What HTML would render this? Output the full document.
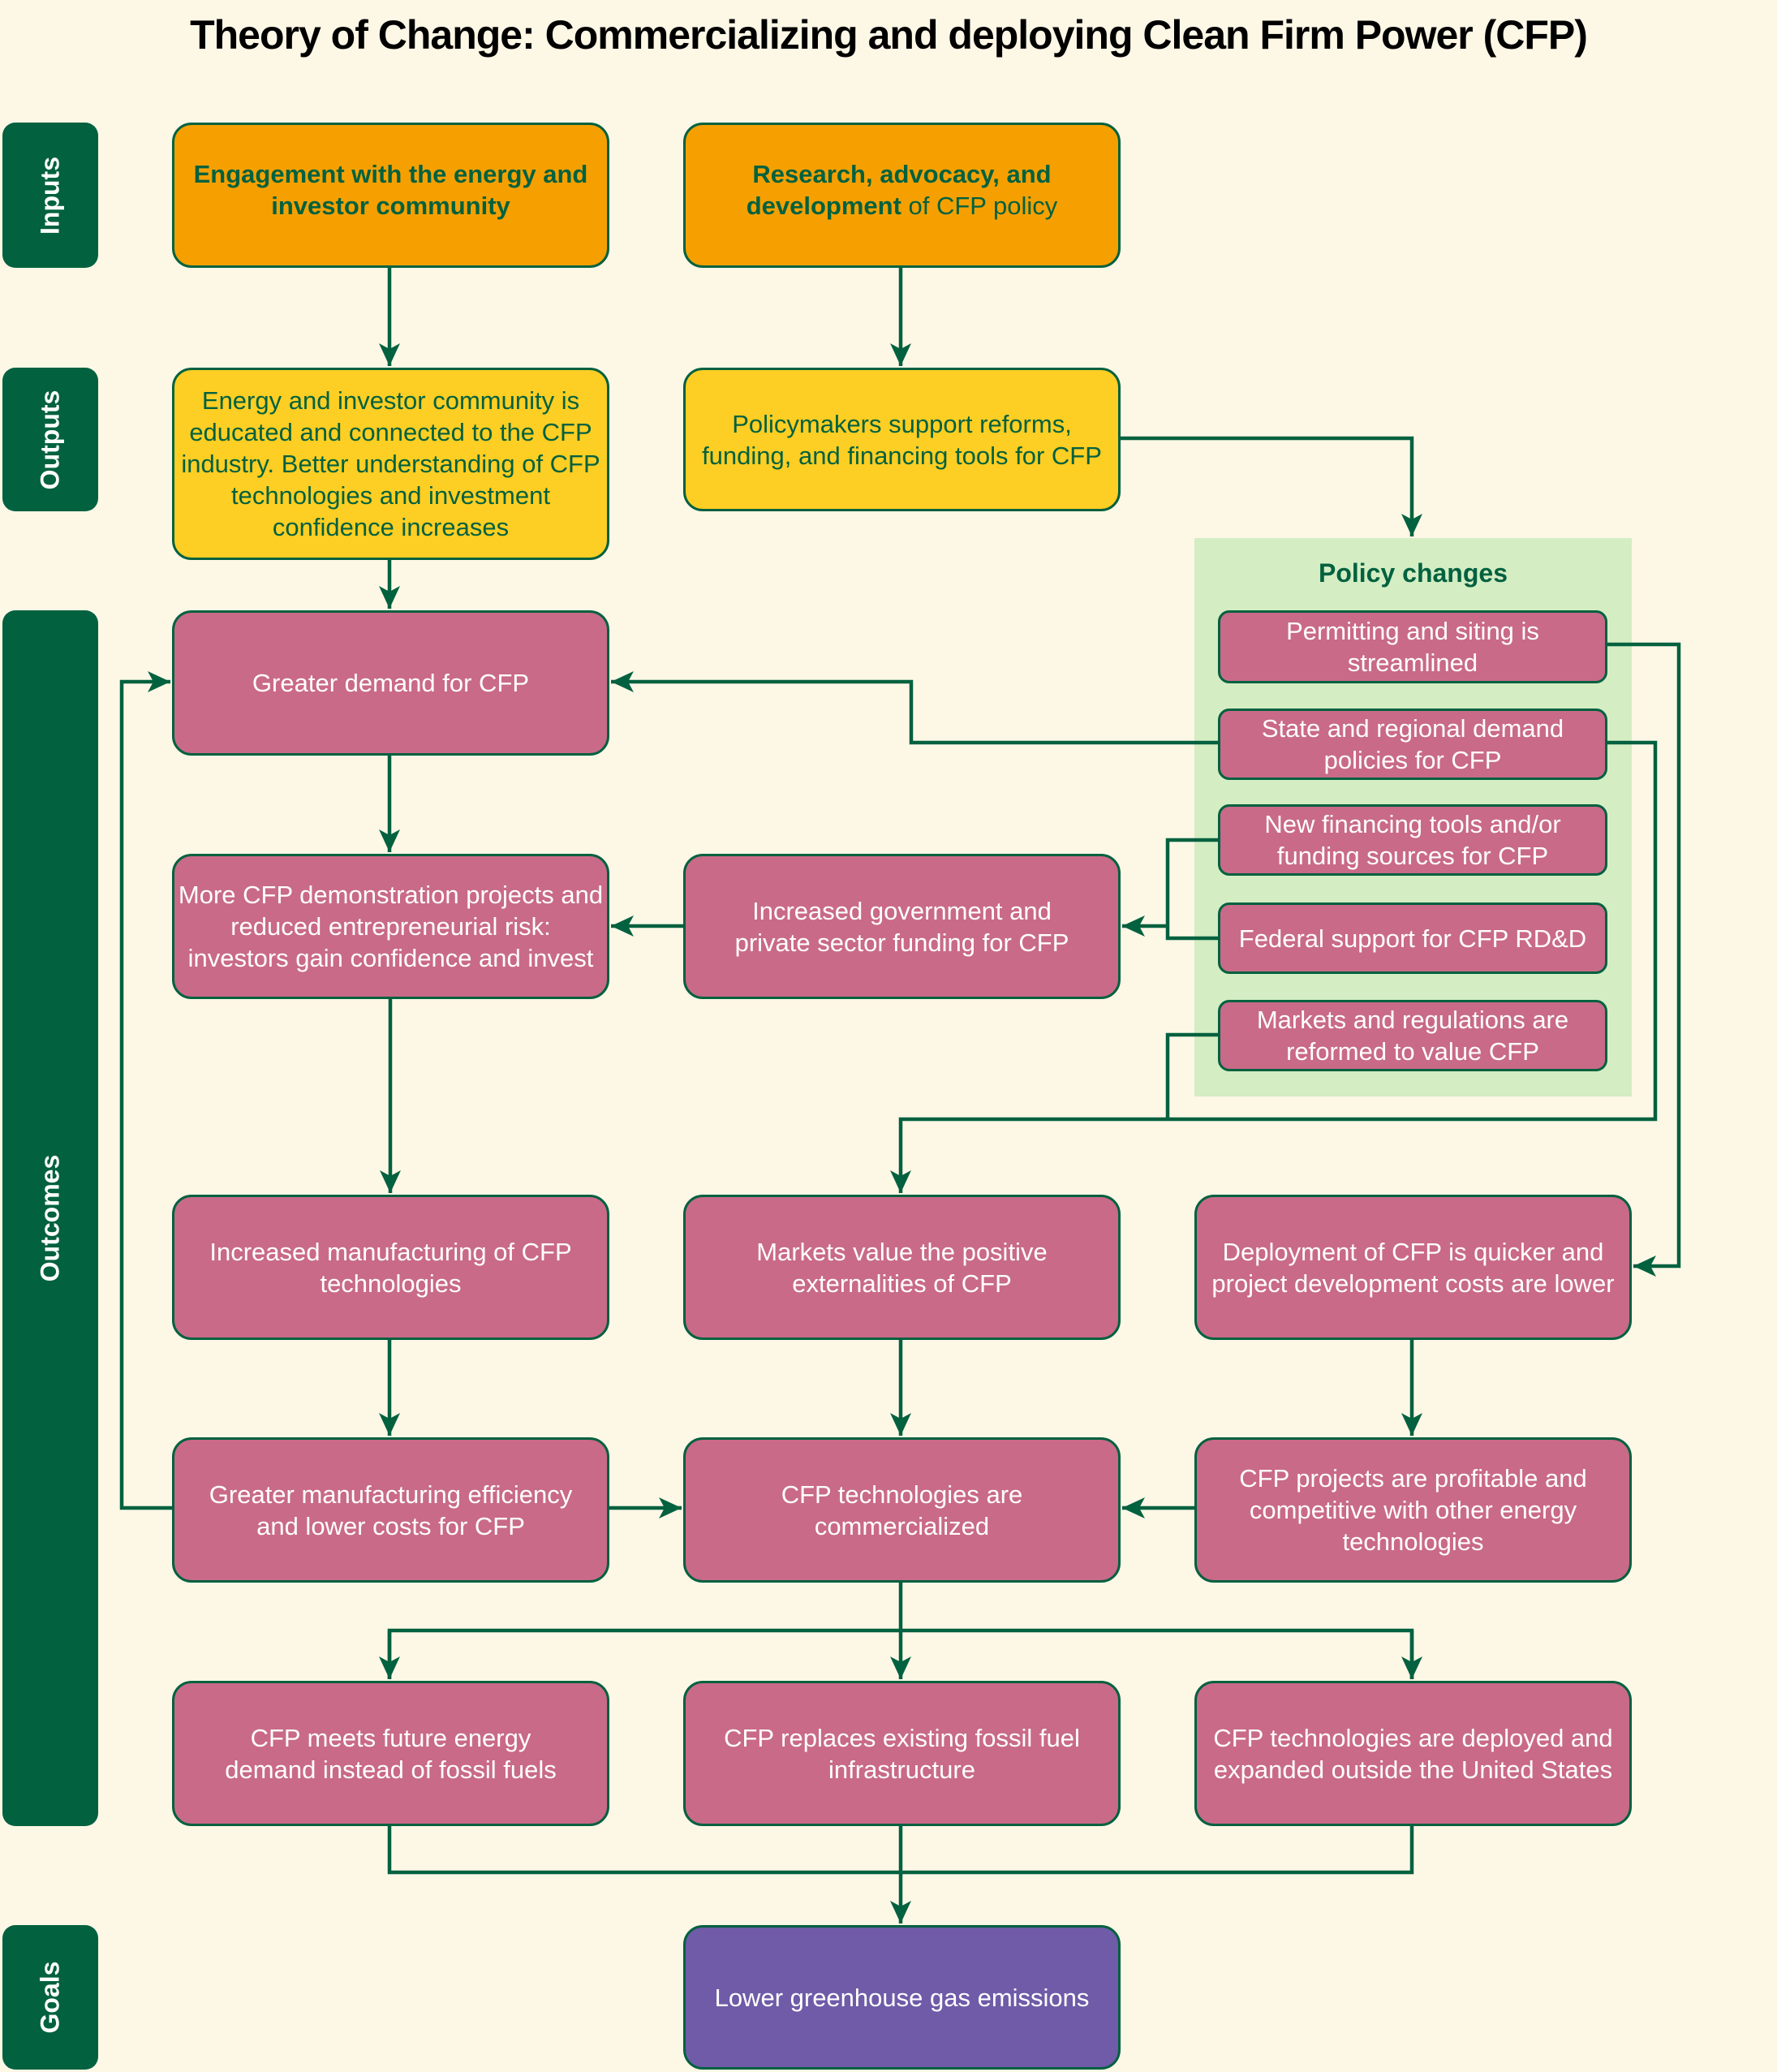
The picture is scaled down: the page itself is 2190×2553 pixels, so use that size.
<!DOCTYPE html>
<html><head><meta charset="utf-8"><style>
*{box-sizing:border-box;margin:0;padding:0}
body{width:2190px;height:2553px;background:#fdf7e6;position:relative;overflow:hidden;font-family:"Liberation Sans",Arial,sans-serif}
.t{position:absolute;left:0;width:2190px;top:14px;text-align:center;font-size:50px;font-weight:bold;color:#000;letter-spacing:-1px}
.side{position:absolute;left:3px;width:118px;background:#02613f;border-radius:16px}
.side span{position:absolute;left:50%;top:50%;transform:translate(-50%,-50%) rotate(-90deg);color:#fff;font-weight:bold;font-size:32px;white-space:nowrap}
.b{position:absolute;border:3.5px solid #02613f;border-radius:24px;display:flex;align-items:center;justify-content:center;text-align:center;font-size:31px;line-height:39px;padding:0 4px}
.o{background:#f5a000;color:#02613f}
.y{background:#fdce23;color:#02613f}
.p{background:#c96a88;color:#fff}
.g{background:#6f5ba8;color:#fff}
.pi{position:absolute;left:1501px;width:480px;border:3.5px solid #02613f;border-radius:14px;background:#c96a88;color:#fff;display:flex;align-items:center;justify-content:center;text-align:center;font-size:31px;line-height:39px}
.c1{left:212px;width:539px}.c2{left:842px;width:539px}.c3{left:1472px;width:539px}
</style></head><body>
<div class="t">Theory of Change: Commercializing and deploying Clean Firm Power (CFP)</div>
<div class="side" style="top:151px;height:179px"><span>Inputs</span></div>
<div class="side" style="top:453px;height:177px"><span>Outputs</span></div>
<div class="side" style="top:752px;height:1498px"><span>Outcomes</span></div>
<div class="side" style="top:2372px;height:178px"><span>Goals</span></div>

<div style="position:absolute;left:1472px;top:663px;width:539px;height:688px;background:#d4edc3"></div>
<div style="position:absolute;left:1472px;top:688px;width:539px;text-align:center;font-weight:bold;font-size:32px;color:#02613f">Policy changes</div>

<svg width="2190" height="2553" style="position:absolute;left:0;top:0">
<defs><marker id="a" markerUnits="userSpaceOnUse" markerWidth="30" markerHeight="30" refX="28" refY="13" orient="auto"><path d="M0,0 L28,13 L0,26 L7,13 Z" fill="#02613f"/></marker></defs>
<g stroke="#02613f" stroke-width="4.5" fill="none">
<path d="M480,330 V451" marker-end="url(#a)"/>
<path d="M1110,330 V451" marker-end="url(#a)"/>
<path d="M1381,540 H1740 V661" marker-end="url(#a)"/>
<path d="M480,690 V750" marker-end="url(#a)"/>
<path d="M1501,915 H1123 V840 H753" marker-end="url(#a)"/>
<path d="M1981,794 H2069 V1560 H2013" marker-end="url(#a)"/>
<path d="M1981,915 H2040 V1379 H1110 V1470" marker-end="url(#a)"/>
<path d="M1501,1275 H1439 V1379"/>
<path d="M1501,1035 H1439 V1156 H1501"/>
<path d="M1439,1141 H1383" marker-end="url(#a)"/>
<path d="M480,931 V1050" marker-end="url(#a)"/>
<path d="M842,1141 H753" marker-end="url(#a)"/>
<path d="M481,1231 V1470" marker-end="url(#a)"/>
<path d="M480,1651 V1769" marker-end="url(#a)"/>
<path d="M1110,1651 V1769" marker-end="url(#a)"/>
<path d="M1740,1651 V1769" marker-end="url(#a)"/>
<path d="M212,1858 H150 V840 H210" marker-end="url(#a)"/>
<path d="M751,1858 H840" marker-end="url(#a)"/>
<path d="M1472,1858 H1383" marker-end="url(#a)"/>
<path d="M1110,1950 V2069" marker-end="url(#a)"/>
<path d="M480,2069 V2009 H1740 V2069"/>
<path d="M480,2009 V2069" marker-end="url(#a)"/>
<path d="M1740,2009 V2069" marker-end="url(#a)"/>
<path d="M480,2250 V2307 H1740 V2250"/>
<path d="M1110,2250 V2370" marker-end="url(#a)"/>
</g></svg>

<div class="b o c1" style="top:151px;height:179px;font-weight:bold;padding-bottom:14px">Engagement with the energy and<br>investor community</div>
<div class="b o c2" style="top:151px;height:179px;padding-bottom:14px"><span><b>Research, advocacy, and<br>development</b> of CFP policy</span></div>
<div class="b y c1" style="top:453px;height:237px">Energy and investor community is educated and connected to the CFP industry. Better understanding of CFP technologies and investment confidence increases</div>
<div class="b y c2" style="top:453px;height:177px;padding:0 20px">Policymakers support reforms, funding, and financing tools for CFP</div>

<div class="pi" style="top:752px;height:90px">Permitting and siting is<br>streamlined</div>
<div class="pi" style="top:873px;height:88px">State and regional demand<br>policies for CFP</div>
<div class="pi" style="top:991px;height:88px">New financing tools and/or<br>funding sources for CFP</div>
<div class="pi" style="top:1112px;height:88px">Federal support for CFP RD&amp;D</div>
<div class="pi" style="top:1232px;height:88px">Markets and regulations are<br>reformed to value CFP</div>

<div class="b p c1" style="top:752px;height:179px">Greater demand for CFP</div>
<div class="b p c1" style="top:1052px;height:179px">More CFP demonstration projects and reduced entrepreneurial risk: investors gain confidence and invest</div>
<div class="b p c2" style="top:1052px;height:179px">Increased government and<br>private sector funding for CFP</div>
<div class="b p c1" style="top:1472px;height:179px">Increased manufacturing of CFP<br>technologies</div>
<div class="b p c2" style="top:1472px;height:179px">Markets value the positive<br>externalities of CFP</div>
<div class="b p c3" style="top:1472px;height:179px">Deployment of CFP is quicker and project development costs are lower</div>
<div class="b p c1" style="top:1771px;height:179px">Greater manufacturing efficiency<br>and lower costs for CFP</div>
<div class="b p c2" style="top:1771px;height:179px">CFP technologies are<br>commercialized</div>
<div class="b p c3" style="top:1771px;height:179px;padding:0 20px">CFP projects are profitable and competitive with other energy technologies</div>
<div class="b p c1" style="top:2071px;height:179px">CFP meets future energy<br>demand instead of fossil fuels</div>
<div class="b p c2" style="top:2071px;height:179px">CFP replaces existing fossil fuel<br>infrastructure</div>
<div class="b p c3" style="top:2071px;height:179px">CFP technologies are deployed and expanded outside the United States</div>
<div class="b g c2" style="top:2372px;height:178px">Lower greenhouse gas emissions</div>
</body></html>
